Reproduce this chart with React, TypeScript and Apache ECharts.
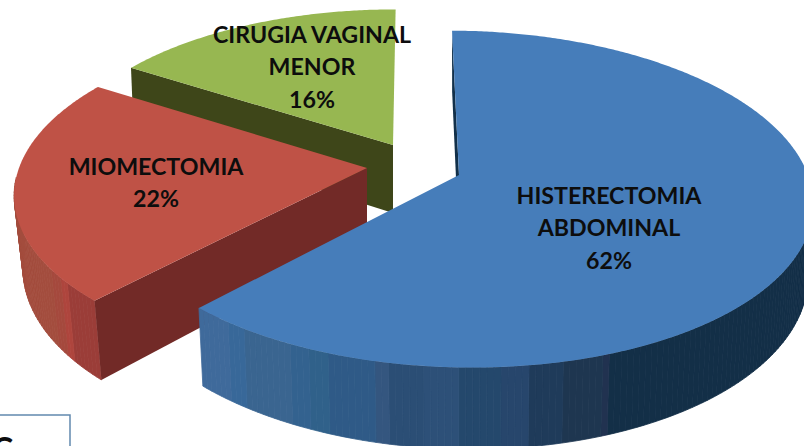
import React, { useEffect, useRef } from "react";
import * as echarts from "echarts";

const categories = ["HISTERECTOMIA\nABDOMINAL", "MIOMECTOMIA", "CIRUGIA VAGINAL\nMENOR"];
const values = [62, 22, 16];

const topColors = ["#467dba", "#bf5246", "#97b751"];
const wallColors = ["#12304a", "#722a27", "#3e4619"];
const rimBands: [number, string][][] = [
  [[230, "#3f6a9b"], [245, "#386899"], [290, "#3a6590"], [310, "#33628f"], [330, "#30618a"], [375, "#2f5a87"], [390, "#34567f"], [420, "#2b4e75"], [460, "#2d5078"], [500, "#24486c"], [530, "#27466c"], [560, "#1f3b5a"], [600, "#1e3650"], [610, "#213250"], [900, "#132f47"]],
  [[50, "#a34d3e"], [60, "#a5493d"], [66, "#ae453d"], [900, "#9b3d38"]],
  [[900, "#3e4619"]],
];
const geometry = [
  { rot: 0.5, ax: 459, ay: 175, A: 349, B: 165, s: 11, D: 70, k: 0.985 },
  { rot: 0, ax: 367, ay: 168, A: 348, B: 163, s: -8, D: 71, k: 0.975 },
  { rot: 0, ax: 393, ay: 145, A: 336, B: 155, s: -3, D: 68, k: 0.99 },
];
const labelPos = [
  { x: 609, y: 227 },
  { x: 156, y: 182 },
  { x: 312, y: 66 },
];
const P = 0.143;
const FONT = "Lato";

const total = values.reduce((a, b) => a + b, 0);
const starts: number[] = [];
values.reduce((acc, v, i) => {
  starts[i] = acc;
  return acc + (v / total) * 360;
}, 0);

function top(i: number, deg: number): [number, number] {
  const g = geometry[i];
  const t = ((deg + g.rot) * Math.PI) / 180;
  const X = Math.sin(t);
  const Y = -Math.cos(t);
  const w = 1 - P * Y;
  return [g.ax + (g.A * X + g.s * Y) / w, g.ay + (g.B * Y) / w];
}
function low(i: number, deg: number): [number, number] {
  const g = geometry[i];
  const t = ((deg + g.rot) * Math.PI) / 180;
  const w = 1 + P * Math.cos(t);
  const [x, y] = top(i, deg);
  return [g.ax + (x - g.ax) * g.k, y + g.D / w];
}

const order = [2, 1, 0];

function renderItem(params: any) {
  const i = order[params.dataIndex];
  const g = geometry[i];
  const from = starts[i];
  const to = from + (values[i] / total) * 360;
  const children: any[] = [];
  const n = Math.ceil(to - from);
  const dA = (to - from) / n;
  // outer rim strips, front half only
  for (let k = 0; k < n; k++) {
    const a = from + k * dA;
    const b = a + dA;
    if (Math.cos(((a + b) / 2 + g.rot) * (Math.PI / 180)) > -0.05) continue;
    const p1 = top(i, a);
    const p2 = top(i, b);
    const mid = (p1[0] + p2[0]) / 2;
    const band = rimBands[i].find((r) => mid < r[0]) || rimBands[i][rimBands[i].length - 1];
    children.push({
      type: "polygon",
      shape: { points: [p1, p2, low(i, b), low(i, a)] },
      style: { fill: band[1], stroke: band[1], lineWidth: 0.8 },
    });
  }
  // cut face at the slice's first radius
  children.push({
    type: "polygon",
    shape: { points: [[g.ax, g.ay], top(i, from), low(i, from), [g.ax, g.ay + g.D]] },
    style: { fill: wallColors[i] },
  });
  // top face
  const pts: [number, number][] = [[g.ax, g.ay]];
  for (let a = from; a < to; a += 0.5) pts.push(top(i, a));
  pts.push(top(i, to));
  children.push({ type: "polygon", shape: { points: pts }, style: { fill: topColors[i] } });
  // label
  children.push({
    type: "text",
    style: {
      text: `${categories[i]}\n${Math.round((values[i] / total) * 100)}%`,
      x: labelPos[i].x,
      y: labelPos[i].y,
      align: "center",
      verticalAlign: "middle",
      font: `bold 23.2px ${FONT}`,
      lineHeight: 32.5,
      fill: "#0d0d0d",
    },
  });
  return { type: "group", children };
}

export default function App() {
  const ref = useRef<HTMLDivElement>(null);
  useEffect(() => {
    document.body.style.margin = "0";
    const chart = echarts.init(ref.current!, undefined, { renderer: "svg" });
    chart.setOption({
      animation: false,
      backgroundColor: "#ffffff",
      series: [
        {
          type: "custom",
          coordinateSystem: "none",
          clip: false,
          silent: true,
          renderItem,
          data: order.map((i) => ({ name: categories[i], value: values[i] })),
        },
      ],
      graphic: [
        {
          type: "rect",
          shape: { x: -3, y: 415, width: 73, height: 40 },
          style: { fill: "#ffffff", stroke: "#6289ae", lineWidth: 1.5 },
        },
        {
          type: "text",
          style: { text: "C", x: -8, y: 432, font: "bold 32px Lato", fill: "#0d0d0d" },
        },
      ],
    });
    return () => chart.dispose();
  }, []);
  return <div ref={ref} style={{ width: 804, height: 446 }} />;
}
